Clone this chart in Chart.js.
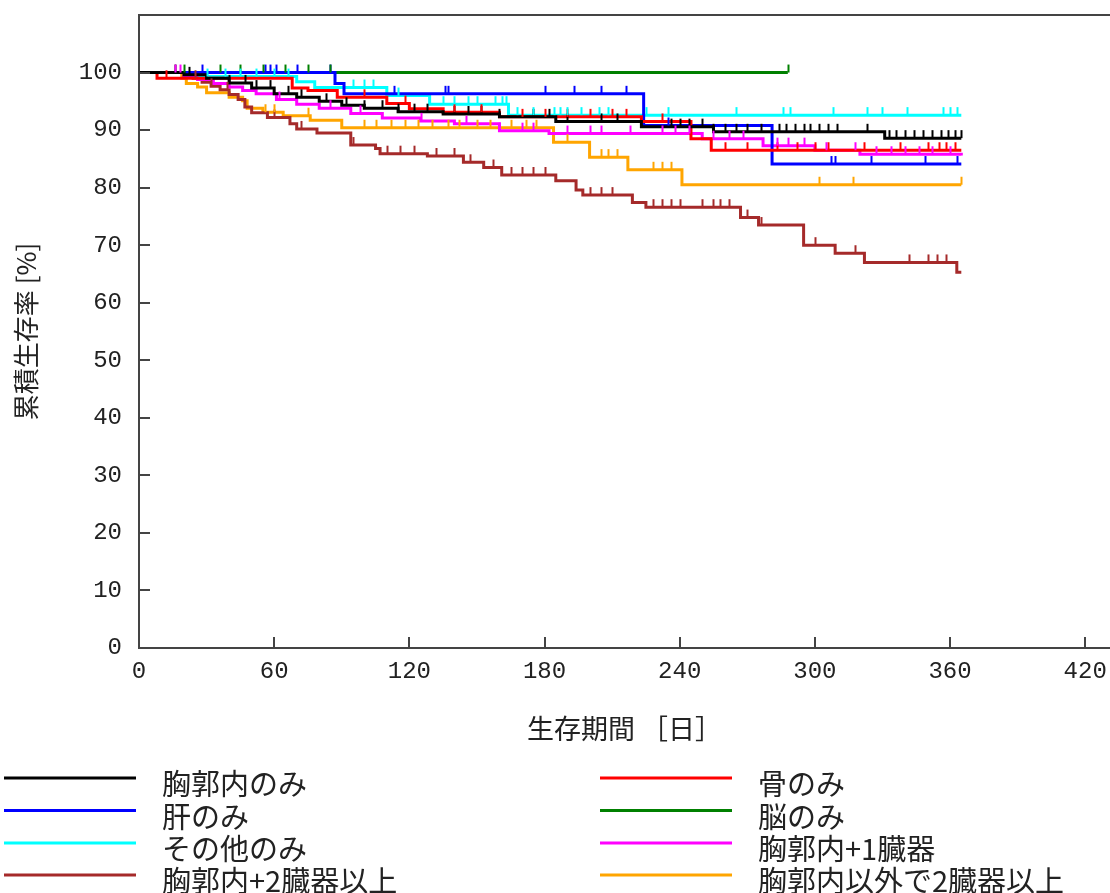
<!DOCTYPE html>
<html>
<head>
<meta charset="utf-8">
<script src="https://cdn.jsdelivr.net/npm/chart.js@4.4.1/dist/chart.umd.min.js"></script>
<style>
  html, body { margin: 0; padding: 0; background: #fff; }
  #wrap { width: 1110px; height: 893px; position: relative; }
</style>
</head>
<body>
<div id="wrap"><canvas id="kmChart"></canvas></div>
<script>
// Survival steps: day at which each level starts, and the level (%)
const blackDays = [0, 20, 30, 40, 50, 60, 70, 80, 90, 100, 115, 135, 160, 185, 223, 255, 331, 365];
const blackSurv = [100, 99.6, 99, 98.2, 97.3, 96.3, 95.7, 95, 94.3, 93.8, 93.2, 92.8, 92.3, 91.5, 90.6, 89.7, 88.6, 88.6];
const blueDays = [0, 87, 91, 224, 281, 365];
const blueSurv = [100, 98.1, 96.3, 90.8, 84.1, 84.1];
const cyanDays = [0, 27, 70, 78, 110, 129, 164, 365];
const cyanSurv = [100, 99.3, 98.4, 97.4, 96, 94.5, 92.6, 92.6];
const brownDays = [0, 20, 24, 28, 32, 36, 40, 44, 47, 50, 57, 67, 70, 79, 94, 105, 107, 128, 144, 153, 161, 185, 194, 197, 219, 225, 267, 275, 295, 309, 322, 363, 365];
const brownSurv = [100, 99.5, 99, 98.3, 97.6, 97, 96.2, 95.3, 94, 93, 92.2, 91.1, 90.2, 89.5, 87.4, 86.8, 85.9, 85.5, 84.4, 83.5, 82.2, 81.2, 79.6, 78.7, 77.4, 76.6, 74.8, 73.5, 70, 68.6, 67, 65.3, 65.3];
const redDays = [0, 8, 68, 75, 88, 110, 120, 135, 160, 223, 245, 254, 365];
const redSurv = [100, 99, 97.3, 96.9, 95.7, 94.6, 93.7, 93.1, 92.3, 91.5, 88.5, 86.5, 86.5];
const greenDays = [0, 288];
const greenSurv = [100, 100];
const magentaDays = [0, 20, 26, 33, 40, 46, 52, 61, 70, 80, 94, 108, 125, 140, 160, 182, 250, 277, 300, 320, 365];
const magentaSurv = [100, 99.4, 98.8, 98.1, 97.5, 96.9, 96.3, 95.3, 94.5, 93.8, 92.9, 92.1, 91.6, 91.1, 89.9, 89.4, 88.5, 87.3, 86.5, 85.8, 85.6];
const orangeDays = [0, 19, 21, 26, 30, 40, 46, 48, 55, 64, 76, 90, 184, 200, 217, 241, 365];
const orangeSurv = [100, 99, 98.1, 97.5, 96.5, 95.7, 95.1, 93.8, 93.1, 92.5, 91.7, 90.4, 87.9, 85.3, 83.1, 80.5, 80.5];

// Censored observations (days)
const blackCensor = [16, 22, 40, 47, 52, 58, 66, 72, 83, 92, 100, 108, 115, 122, 128, 140, 146, 152, 160, 175, 182, 190, 205, 212, 236, 240, 244, 250, 255, 260, 265, 270, 276, 284, 287, 291, 295, 298, 302, 306, 310, 323, 333, 336, 340, 344, 348, 352, 356, 359, 362, 365];
const blueCensor = [28, 56, 58, 61, 70, 85, 113, 136, 137, 180, 193, 205, 216, 235, 307, 309, 325, 349, 363];
const cyanCensor = [30, 38, 45, 52, 60, 66, 95, 100, 104, 115, 135, 140, 146, 150, 158, 161, 163, 168, 175, 184, 187, 190, 196, 204, 208, 225, 235, 265, 286, 289, 308, 323, 330, 341, 357, 360, 363];
const brownCensor = [25, 32, 39, 60, 72, 95, 110, 116, 122, 132, 140, 147, 157, 165, 170, 175, 180, 200, 205, 210, 228, 232, 236, 240, 250, 255, 258, 262, 270, 276, 300, 318, 342, 350, 354, 358];
const redCensor = [12, 100, 118, 140, 152, 170, 180, 190, 200, 210, 216, 232, 260, 270, 283, 292, 300, 306, 322, 338, 350, 355, 358, 362];
const greenCensor = [20, 36, 45, 55, 65, 75, 85, 288];
const magentaCensor = [16, 18, 62, 85, 98, 125, 145, 160, 170, 175, 190, 200, 205, 218, 232, 238, 244, 255, 262, 268, 283, 288, 295, 305, 318, 327, 334, 340, 346, 352, 360];
const orangeCensor = [56, 60, 75, 100, 105, 112, 118, 124, 130, 137, 142, 150, 156, 165, 172, 176, 190, 205, 208, 212, 228, 232, 236, 302, 317, 365];

const xTicks = [0, 60, 120, 180, 240, 300, 360, 420];
const yTicks = [0, 10, 20, 30, 40, 50, 60, 70, 80, 90, 100];

// legend order: left column then right column, row by row
const series = [
  { name: '胸郭内のみ', color: '#000000', days: blackDays, surv: blackSurv, censor: blackCensor },
  { name: '骨のみ', color: '#ff0000', days: redDays, surv: redSurv, censor: redCensor },
  { name: '肝のみ', color: '#0000ff', days: blueDays, surv: blueSurv, censor: blueCensor },
  { name: '脳のみ', color: '#008000', days: greenDays, surv: greenSurv, censor: greenCensor },
  { name: 'その他のみ', color: '#00ffff', days: cyanDays, surv: cyanSurv, censor: cyanCensor },
  { name: '胸郭内+1臓器', color: '#ff00ff', days: magentaDays, surv: magentaSurv, censor: magentaCensor },
  { name: '胸郭内+2臓器以上', color: '#a52a2a', days: brownDays, surv: brownSurv, censor: brownCensor },
  { name: '胸郭内以外で2臓器以上', color: '#ffa500', days: orangeDays, surv: orangeSurv, censor: orangeCensor }
];

function survAt(s, d) {
  let v = s.surv[0];
  for (let i = 0; i < s.days.length; i++) {
    if (s.days[i] <= d) v = s.surv[i];
  }
  return v;
}

const axisColor = '#444';
const textColor = '#222';

// inner tick marks, top frame, censor marks and the two-column legend
const kmExtras = {
  id: 'kmExtras',
  afterDatasetsDraw(chart) {
    const ctx = chart.ctx;
    const xs = chart.scales.x, ys = chart.scales.y;
    ctx.save();
    ctx.lineWidth = 2;
    series.forEach(s => {
      ctx.strokeStyle = s.color;
      s.censor.forEach(d => {
        const px = Math.round(xs.getPixelForValue(d)) + 0.5;
        const py = ys.getPixelForValue(survAt(s, d));
        ctx.beginPath();
        ctx.moveTo(px, py);
        ctx.lineTo(px, py - 8);
        ctx.stroke();
      });
    });
    ctx.restore();
  },
  afterDraw(chart) {
    const ctx = chart.ctx;
    const area = chart.chartArea;
    const xs = chart.scales.x, ys = chart.scales.y;
    ctx.save();
    ctx.strokeStyle = axisColor;
    ctx.lineWidth = 2;
    // top frame
    ctx.beginPath();
    ctx.moveTo(area.left, area.top);
    ctx.lineTo(chart.width, area.top);
    ctx.stroke();
    // left frame up to the top
    ctx.beginPath();
    ctx.moveTo(area.left, area.top);
    ctx.lineTo(area.left, area.bottom);
    ctx.stroke();
    // inward ticks
    xTicks.forEach(v => {
      const px = Math.round(xs.getPixelForValue(v));
      ctx.beginPath();
      ctx.moveTo(px, area.bottom);
      ctx.lineTo(px, area.bottom - 11);
      ctx.stroke();
    });
    yTicks.forEach(v => {
      const py = Math.round(ys.getPixelForValue(v));
      ctx.beginPath();
      ctx.moveTo(area.left, py);
      ctx.lineTo(area.left + 11, py);
      ctx.stroke();
    });
    // legend
    ctx.font = '29px "Noto Sans CJK JP"';
    ctx.textBaseline = 'middle';
    ctx.fillStyle = textColor;
    const rowY = [778, 810.5, 843, 875];
    const colX = [4, 600];
    series.forEach((s, i) => {
      const col = i % 2, row = Math.floor(i / 2);
      const x0 = colX[col], y0 = rowY[row];
      ctx.strokeStyle = s.color;
      ctx.lineWidth = 3;
      ctx.beginPath();
      ctx.moveTo(x0, y0);
      ctx.lineTo(x0 + 132, y0);
      ctx.stroke();
      ctx.fillText(s.name, x0 + 158, y0 + 6);
    });
    ctx.restore();
  }
};

const ctx = document.getElementById('kmChart').getContext('2d');
new Chart(ctx, {
  type: 'line',
  data: {
    datasets: series.map(s => ({
      label: s.name,
      data: s.days.map((d, i) => ({ x: d, y: s.surv[i] })),
      borderColor: s.color,
      borderWidth: 3,
      pointRadius: 0,
      stepped: 'before',
      fill: false
    }))
  },
  options: {
    responsive: true,
    maintainAspectRatio: false,
    animation: false,
    layout: { padding: { top: 15, left: 0, right: 0, bottom: 0 } },
    plugins: {
      legend: { display: false },
      tooltip: { enabled: false }
    },
    scales: {
      x: {
        type: 'linear',
        min: 0,
        max: 431,
        afterBuildTicks: scale => {
          scale.ticks = xTicks.map(v => ({ value: v }));
        },
        afterFit: scale => {
          scale.height = 245;
          scale.paddingLeft = 0;
          scale.paddingRight = 0;
        },
        ticks: {
          color: textColor,
          font: { family: '"Liberation Mono", monospace', size: 24 },
          padding: 9,
          maxRotation: 0
        },
        grid: { display: false, drawTicks: false, tickLength: 0 },
        border: { display: true, color: axisColor, width: 2 },
        title: {
          display: true,
          text: '生存期間 ［日］',
          color: textColor,
          font: { family: '"Noto Sans CJK JP"', size: 27 },
          padding: { top: 0, bottom: 148 }
        }
      },
      y: {
        min: 0,
        max: 110,
        afterBuildTicks: scale => {
          scale.ticks = yTicks.map(v => ({ value: v }));
        },
        afterFit: scale => {
          scale.width = 139;
          scale.paddingTop = 0;
          scale.paddingBottom = 0;
        },
        ticks: {
          color: textColor,
          font: { family: '"Liberation Mono", monospace', size: 24 },
          padding: 17
        },
        grid: { display: false, drawTicks: false, tickLength: 0 },
        border: { display: true, color: axisColor, width: 2 },
        title: {
          display: true,
          text: '累積生存率 [%]',
          color: textColor,
          font: { family: '"Noto Sans CJK JP"', size: 26 },
          padding: { top: 11, bottom: 0 }
        }
      }
    }
  },
  plugins: [kmExtras]
});
</script>
</body>
</html>
